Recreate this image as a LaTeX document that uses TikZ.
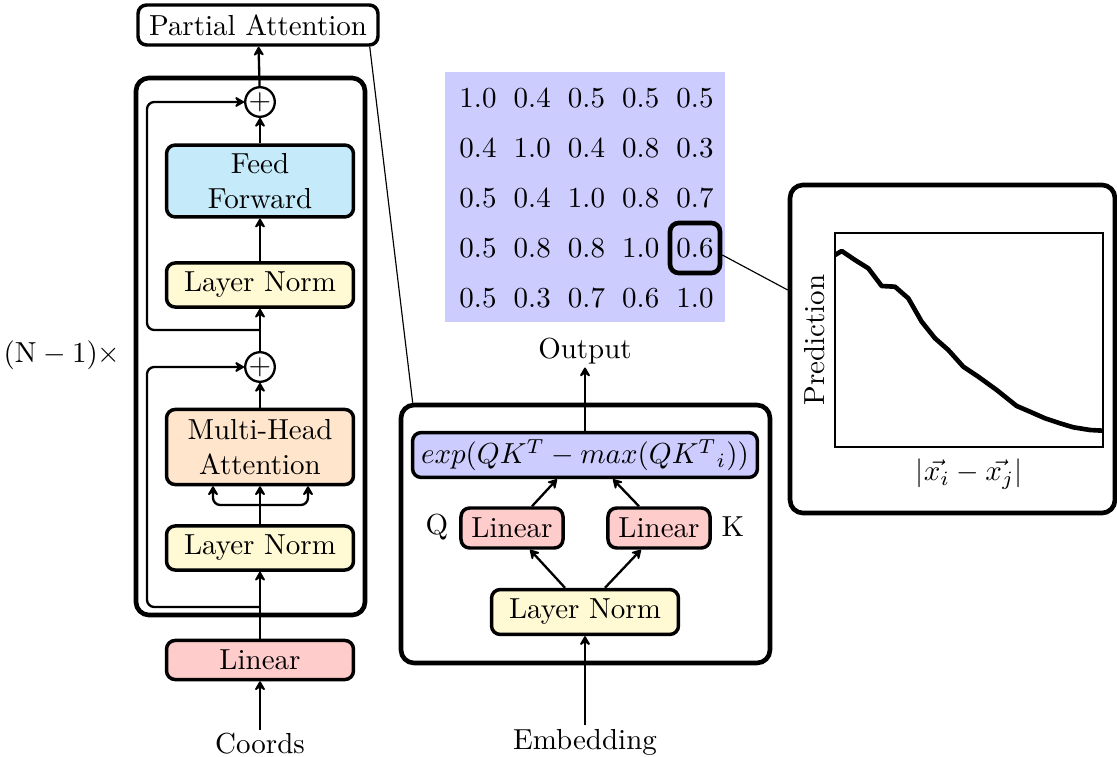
\documentclass[tikz,border=0pt]{standalone}
\usetikzlibrary{calc,arrows.meta}
\definecolor{ffblue}{RGB}{197,234,250}
\definecolor{lnyellow}{RGB}{255,250,212}
\definecolor{mhaorange}{RGB}{255,229,204}
\definecolor{linred}{RGB}{255,204,204}
\definecolor{attblue}{RGB}{204,204,255}
\tikzset{
  blk/.style={draw, very thick, rounded corners=3pt, align=center, inner sep=0pt},
  outer/.style={draw, ultra thick, rounded corners=4.5pt, inner sep=0pt},
  tip/.style={-{Stealth[round, length=4pt, width=4.6pt, inset=1.6pt]}},
  arr/.style={tip, thick},
  wire/.style={tip, thick, rounded corners=2.5pt},
  addop/.style={draw, thick, circle, minimum size=9pt, inner sep=0pt, fill=white},
  lbl/.style={inner sep=1pt},
}
\begin{document}
\begin{tikzpicture}[x=0.345pt, y=-0.345pt]
\useasboundingbox (0,0) rectangle (1117,757);

% ---------------- Partial attention encoder (left) ----------------
\node[outer, minimum width=79pt, minimum height=185.3pt] (enc) at (250.5,346.5) {};
\node[blk, fill=white, minimum width=82.8pt, minimum height=13.8pt] (pa) at (258,25) {Partial Attention};
\node[addop] (add1) at (260,102) {$+$};
\node[blk, fill=ffblue, minimum width=64.5pt, minimum height=24.8pt] (ff) at (260,181) {Feed\\Forward};
\node[blk, fill=lnyellow, minimum width=64.5pt, minimum height=15.2pt] (ln2) at (260,285) {Layer Norm};
\node[addop] (add2) at (260,367) {$+$};
\node[blk, fill=mhaorange, minimum width=64.5pt, minimum height=25.9pt] (mha) at (260,447) {Multi-Head\\Attention};
\node[blk, fill=lnyellow, minimum width=64.5pt, minimum height=15.2pt] (ln1) at (260,548) {Layer Norm};
\node[blk, fill=linred, minimum width=64.5pt, minimum height=13.5pt] (lin) at (260,660) {Linear};
\node[lbl] (coords) at (260,744) {Coords};
\node[lbl] (rep) at (62,355) {$(\mathrm{N}-1)\times$};

\coordinate (r1) at (260,607);
\coordinate (r2) at (260,330);
\coordinate (split) at (260,505);
\coordinate (qin) at (213,505);
\coordinate (vin) at (308,505);

\draw[arr] (coords) -- (lin);
\draw[arr] (lin) -- (ln1);
\draw[wire] (r1) -- (147,607) -- (147,367) -- (add2.west);
\draw[arr] (ln1) -- (mha);
\draw[wire] (split) -- (qin) -- (qin |- mha.south);
\draw[wire] (split) -- (vin) -- (vin |- mha.south);
\draw[arr] (mha) -- (add2);
\draw[arr] (add2) -- (ln2);
\draw[wire] (r2) -- (147,330) -- (147,102) -- (add1.west);
\draw[arr] (ln2) -- (ff);
\draw[arr] (ff) -- (add1);
\draw[arr] (add1) -- (pa);

% ---------------- Attention map ----------------
\node[fill=attblue, minimum width=96.6pt, minimum height=86.25pt, inner sep=0pt] (map) at (585,197) {};
\foreach \row/\vals in {1/{1.0,0.4,0.5,0.5,0.5},
                        2/{0.4,1.0,0.4,0.8,0.3},
                        3/{0.5,0.4,1.0,0.8,0.7},
                        4/{0.5,0.8,0.8,1.0,0.6},
                        5/{0.5,0.3,0.7,0.6,1.0}}{
  \foreach \v [count=\col] in \vals {
    \node[inner sep=0pt] (m-\row-\col) at ({478+(\col-1)*54.25}, {98+(\row-1)*50}) {\v};
  }
}
\node[draw, ultra thick, rounded corners=3pt, minimum size=17.25pt, inner sep=0pt] (hl) at (m-4-5) {};

% ---------------- Attention block (middle) ----------------
\node[outer, minimum width=127.3pt, minimum height=89pt] (att) at (585.5,534) {};
\node[blk, fill=attblue, minimum width=119pt, minimum height=15.5pt] (expo) at (585,455) {$exp(QK^T-max(QK^T{}_i))$};
\node[blk, fill=linred, minimum width=35.2pt, minimum height=13.8pt] (lq) at (512,528) {Linear};
\node[blk, fill=linred, minimum width=35.2pt, minimum height=13.8pt] (lk) at (659,528) {Linear};
\node[lbl] (q) at (437,527) {Q};
\node[lbl] (k) at (733,527) {K};
\node[blk, fill=lnyellow, minimum width=64.5pt, minimum height=15.5pt] (lnm) at (585,612) {Layer Norm};
\node[lbl] (emb) at (585,742) {Embedding};
\node[lbl] (out) at (585,351) {Output};

\draw[arr] (emb) -- (lnm);
\draw[arr] ($(lnm.north)+(-20,0)$) -- ($(lq.south)+(18,0)$);
\draw[arr] ($(lnm.north)+(20,0)$) -- ($(lk.south)+(-18,0)$);
\draw[arr] ($(lq.north)+(20,0)$) -- ($(expo.south)+(-28,0)$);
\draw[arr] ($(lk.north)+(-20,0)$) -- ($(expo.south)+(28,0)$);
\draw[arr] (expo) -- (out);

% ---------------- Distance plot (right) ----------------
\node[outer, minimum width=112.1pt, minimum height=113.2pt] (plot) at (952.5,349) {};
\node[draw, thin, minimum width=92.5pt, minimum height=73.8pt, inner sep=0pt] (axes) at (969,340) {};
\node[lbl, rotate=90] (ylab) at (815,340) {Prediction};
\node[lbl] (xlab) at (969,474) {$|\vec{x_i}-\vec{x_j}|$};
\draw[ultra thick, line join=round] (835,255) -- (841.7,251) -- (855,260) -- (868.3,268.3)
  -- (881.7,286) -- (895,286.7) -- (908.3,298.3) -- (921.7,321.7) -- (935,338.3)
  -- (948.3,350) -- (963.3,366.7) -- (978.3,376.7) -- (996.7,390) -- (1016.7,406)
  -- (1030,411.7) -- (1045,418.3) -- (1060,423.3) -- (1073.3,427.3) -- (1090,430)
  -- (1103.3,430.7);

% ---------------- Zoom leaders ----------------
\draw[thin] ($(pa.south east)+(-10,0)$) -- ($(att.north west)+(14,0)$);
\draw[thin] ($(hl.east)+(0,7)$) -- ($(plot.west)+(0,-59)$);
\end{tikzpicture}
\end{document}
